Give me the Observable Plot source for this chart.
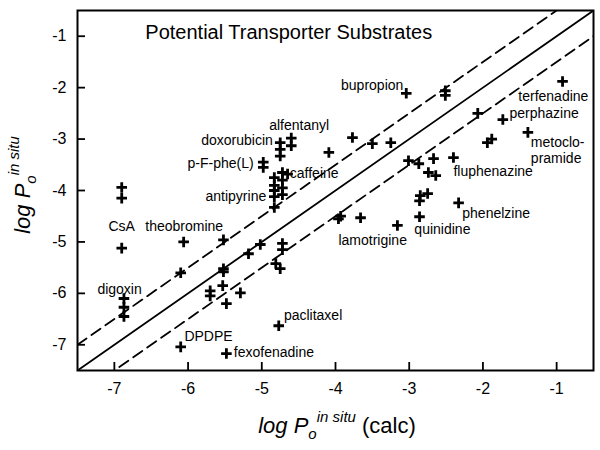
<!DOCTYPE html>
<html>
<head>
<meta charset="utf-8">
<script src="https://cdn.jsdelivr.net/npm/d3@7"></script>
<script src="https://cdn.jsdelivr.net/npm/@observablehq/plot@0.6"></script>
<style>
  body { margin: 0; background: #fff; }
</style>
</head>
<body>
<div id="chart"></div>
<script>
// log Po in situ (calc) values
const calc = [
  -6.9, -6.9, -6.9,
  -6.87, -6.87, -6.87,
  -6.1, -5.48, -4.77,
  -6.06, -6.1, -5.52,
  -5.52, -5.52, -5.53,
  -5.70, -5.70, -5.29, -5.48,
  -5.18, -5.02, -4.81, -4.75, -4.72, -4.72,
  -4.98, -4.98,
  -4.75, -4.75, -4.75,
  -4.6, -4.6,
  -4.83, -4.83, -4.83, -4.83, -4.83,
  -4.72, -4.72, -4.72, -4.72, -4.65,
  -4.09, -3.77, -3.5, -3.25,
  -3.04, -2.51, -2.51, -2.07,
  -1.73, -0.92, -1.39, -1.94, -1.88,
  -3.01, -2.87, -2.67, -2.40, -2.74, -2.64,
  -2.85, -2.86, -2.75,
  -2.33, -2.86, -3.16, -3.66, -3.96, -3.93
];
// log Po in situ (measured) values
const insitu = [
  -3.94, -4.15, -5.12,
  -6.1, -6.27, -6.45,
  -7.04, -7.17, -6.63,
  -5.0, -5.6, -4.96,
  -5.52, -5.58, -5.85,
  -5.95, -6.05, -5.99, -6.2,
  -5.23, -5.05, -5.42, -5.52, -5.03, -5.15,
  -3.45, -3.55,
  -3.07, -3.2, -3.33,
  -2.98, -3.13,
  -3.75, -3.9, -4.0, -4.12, -4.33,
  -3.65, -3.8, -3.95, -4.08, -3.68,
  -3.26, -2.97, -3.09, -3.07,
  -2.11, -2.06, -2.15, -2.5,
  -2.62, -1.88, -2.87, -3.07, -3.0,
  -3.42, -3.48, -3.38, -3.36, -3.65, -3.71,
  -4.1, -4.2, -4.06,
  -4.24, -4.51, -4.68, -4.53, -4.55, -4.5
];
// compound labels (text, data-space anchor, alignment)
const labelText = ["bupropion","terfenadine","perphazine","metoclo-","pramide","fluphenazine","phenelzine","quinidine","lamotrigine","paclitaxel","DPDPE","fexofenadine","digoxin","CsA","theobromine","antipyrine","p-F-phe(L)","doxorubicin","alfentanyl","caffeine"];
const labelX = [-3.08,-1.52,-1.64,-1.35,-1.35,-2.40,-2.28,-2.93,-3.96,-4.70,-6.05,-5.38,-7.23,-7.08,-6.58,-4.94,-5.11,-4.85,-4.90,-4.62];
const labelY = [-1.96,-2.17,-2.50,-3.07,-3.37,-3.63,-4.45,-4.76,-4.97,-6.43,-6.84,-7.15,-5.93,-4.70,-4.70,-4.12,-3.48,-3.03,-2.74,-3.67];
const labelAnchor = ["end","start","start","start","start","start","start","start","start","start","start","start","start","start","start","end","end","end","start","start"];

const xTicks = [-7, -6, -5, -4, -3, -2, -1];
const yTicks = [-7, -6, -5, -4, -3, -2, -1];
const domain = [-7.5, -0.5];
const title = "Potential Transporter Substrates";
const titleX = -6.58, titleY = -0.93;
const lineOffsets = [0, 0.5, -0.5];

const points = calc.map((x, i) => ({x, y: insitu[i]}));
const labels = labelText.map((t, i) => ({t, x: labelX[i], y: labelY[i], a: labelAnchor[i]}));
const lines = lineOffsets.map(o => domain.map(x => ({x, y: x + o, o}))).flat();

const plot = Plot.plot({
  width: 600,
  height: 450,
  marginLeft: 77,
  marginRight: 7,
  marginTop: 10,
  marginBottom: 80,
  style: {fontFamily: "'Liberation Sans', Arial, sans-serif", fontSize: "16px", color: "#000", background: "#fff"},
  x: {domain, label: null},
  y: {domain, label: null},
  marks: [
    Plot.line(lines.filter(d => d.o === 0), {x: "x", y: "y", stroke: "#000", strokeWidth: 1.8, clip: true}),
    Plot.line(lines.filter(d => d.o === 0.5), {x: "x", y: "y", stroke: "#000", strokeWidth: 1.8, strokeDasharray: "11,6", clip: true}),
    Plot.line(lines.filter(d => d.o === -0.5), {x: "x", y: "y", stroke: "#000", strokeWidth: 1.8, strokeDasharray: "11,6", clip: true}),
    Plot.dot(points, {x: "x", y: "y", symbol: "plus", r: 3.5, stroke: "#000", strokeWidth: 2.8}),
    Plot.text(labels.filter(d => d.a === "start"), {x: "x", y: "y", text: "t", textAnchor: "start", fontSize: 14, fill: "#000"}),
    Plot.text(labels.filter(d => d.a === "end"), {x: "x", y: "y", text: "t", textAnchor: "end", fontSize: 14, fill: "#000"}),
    Plot.text([title], {x: () => titleX, y: () => titleY, text: d => d, textAnchor: "start", fontSize: 20, fill: "#000"}),
    Plot.axisX(xTicks, {tickSize: -8, tickPadding: 20, strokeWidth: 1.8, tickFormat: d => `${d}`, fontSize: 16}),
    Plot.axisY(yTicks, {tickSize: -8, tickPadding: 19, strokeWidth: 1.8, tickFormat: d => `${d}`, fontSize: 16}),
    Plot.frame({stroke: "#000", strokeWidth: 2})
  ]
});

const svg = d3.select(plot);
// x-axis title
const xt = svg.append("text")
  .attr("x", 337).attr("y", 433)
  .attr("text-anchor", "middle")
  .attr("font-size", 22)
  .attr("fill", "#000");
xt.append("tspan").attr("font-style", "italic").text("log P");
xt.append("tspan").attr("font-style", "italic").attr("font-size", 15).attr("dy", 6).text("o");
xt.append("tspan").attr("font-style", "italic").attr("font-size", 15).attr("dy", -17).text("in situ");
xt.append("tspan").attr("dy", 11).text(" (calc)");
// y-axis title
const yt = svg.append("text")
  .attr("transform", "translate(30,185) rotate(-90)")
  .attr("text-anchor", "middle")
  .attr("font-size", 22)
  .attr("fill", "#000");
yt.append("tspan").attr("font-style", "italic").text("log P");
yt.append("tspan").attr("font-style", "italic").attr("font-size", 15).attr("dy", 6).text("o");
yt.append("tspan").attr("font-style", "italic").attr("font-size", 15).attr("dy", -17).text("in situ");

document.getElementById("chart").appendChild(plot);
</script>
</body>
</html>
